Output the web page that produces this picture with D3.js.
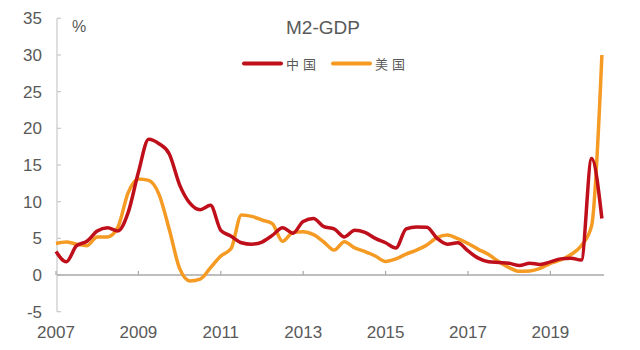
<!DOCTYPE html>
<html>
<head>
<meta charset="utf-8">
<script src="https://cdn.jsdelivr.net/npm/d3@7"></script>
<style>
  body { margin: 0; background: #fff; }
  svg { display: block; }
</style>
</head>
<body>
<div id="chart"></div>
<script>
// quarterly points, 2007Q1 .. 2020Q2
const startYear = 2007;
const china = [3.2, 1.8, 4.0, 4.6, 6.0, 6.45, 6.0, 8.5, 14.0, 18.5, 17.9, 16.5,
  12.3, 9.8, 8.9, 9.5, 6.1, 5.3, 4.4, 4.2, 4.5, 5.4, 6.45, 5.7,
  7.3, 7.7, 6.6, 6.3, 5.2, 6.1, 5.8, 5.0, 4.4, 3.7, 6.3, 6.55,
  6.5, 5.0, 4.2, 4.4, 3.3, 2.3, 1.8, 1.7, 1.6, 1.3, 1.6, 1.45,
  1.8, 2.2, 2.3, 2.05, 15.9, 7.7];
const usa = [4.3, 4.5, 4.2, 4.0, 5.2, 5.2, 6.5, 11.2, 13.1, 12.9, 11.0, 6.2,
  0.9, -0.8, -0.55, 1.0, 2.6, 3.6, 8.2, 8.0, 7.5, 7.0, 4.6, 5.8,
  5.9, 5.5, 4.5, 3.4, 4.55, 3.7, 3.2, 2.6, 1.85, 2.2, 2.85, 3.4,
  4.1, 5.1, 5.45, 4.95, 4.3, 3.5, 2.8, 1.8, 1.0, 0.5, 0.55, 0.9,
  1.6, 2.05, 2.8, 4.0, 6.7, 30.0];
const yTicks = [-5, 0, 5, 10, 15, 20, 25, 30, 35];
const xTicks = [2007, 2009, 2011, 2013, 2015, 2017, 2019];
const seriesNames = ["中国", "美国"];
const colors = ["#BE0F1A", "#F59A23"];

const width = 640, height = 350;
const svg = d3.select("#chart").append("svg")
    .attr("width", width)
    .attr("height", height);

const x = d3.scaleLinear().domain([2007, 2020.25]).range([56, 601.9]);
const y = d3.scaleLinear().domain([-5, 35]).range([311.7, 18.3]);

const textColor = "#595959";
const font = "'Liberation Sans', Arial, sans-serif";

// y axis
svg.append("line")
    .attr("x1", 57).attr("x2", 57)
    .attr("y1", y(35)).attr("y2", y(-5))
    .attr("stroke", "#C8C8C8").attr("stroke-width", 1.2);
svg.selectAll(".ytick").data(yTicks).enter().append("line")
    .attr("x1", 57).attr("x2", 61)
    .attr("y1", d => y(d)).attr("y2", d => y(d))
    .attr("stroke", "#C8C8C8").attr("stroke-width", 1.2);
svg.selectAll(".ylab").data(yTicks).enter().append("text")
    .attr("x", 42).attr("y", d => y(d) + 6)
    .attr("text-anchor", "end")
    .attr("font-family", font).attr("font-size", 17)
    .attr("fill", textColor)
    .text(d => d);

// x axis at zero
svg.append("line")
    .attr("x1", 57).attr("x2", x(2020.3))
    .attr("y1", y(0)).attr("y2", y(0))
    .attr("stroke", "#A8A8A8").attr("stroke-width", 1.5);
svg.selectAll(".xtick").data(xTicks).enter().append("line")
    .attr("x1", d => x(d)).attr("x2", d => x(d))
    .attr("y1", y(0)).attr("y2", y(0) - 4)
    .attr("stroke", "#A8A8A8").attr("stroke-width", 1.2);
svg.selectAll(".xlab").data(xTicks).enter().append("text")
    .attr("x", d => x(d)).attr("y", 338)
    .attr("text-anchor", "middle")
    .attr("font-family", font).attr("font-size", 17)
    .attr("fill", textColor)
    .text(d => d);

// lines
const line = d3.line()
    .x((d, i) => x(startYear + i / 4))
    .y(d => y(d))
    .curve(d3.curveMonotoneX);

[usa, china].forEach((s, k) => {
  svg.append("path")
      .datum(s)
      .attr("fill", "none")
      .attr("stroke", k === 0 ? colors[1] : colors[0])
      .attr("stroke-width", 3.5)
      .attr("stroke-linejoin", "round")
      .attr("d", line);
});

// title and unit
svg.append("text")
    .attr("x", 323).attr("y", 34)
    .attr("text-anchor", "middle")
    .attr("font-family", font).attr("font-size", 19)
    .attr("fill", textColor)
    .text("M2-GDP");
svg.append("text")
    .attr("x", 72).attr("y", 32)
    .attr("font-family", font).attr("font-size", 16)
    .attr("fill", textColor)
    .text("%");

// legend
const legendX = [244, 333];
seriesNames.forEach((name, i) => {
  svg.append("line")
      .attr("x1", legendX[i]).attr("x2", legendX[i] + 37)
      .attr("y1", 63.5).attr("y2", 63.5)
      .attr("stroke", colors[i]).attr("stroke-width", 4)
      .attr("stroke-linecap", "round");
  svg.append("text")
      .attr("x", legendX[i] + 42).attr("y", 68.5)
      .attr("font-family", "'Noto Sans CJK SC', sans-serif")
      .attr("font-size", 13)
      .attr("letter-spacing", 4)
      .attr("fill", textColor)
      .text(name);
});
</script>
</body>
</html>
